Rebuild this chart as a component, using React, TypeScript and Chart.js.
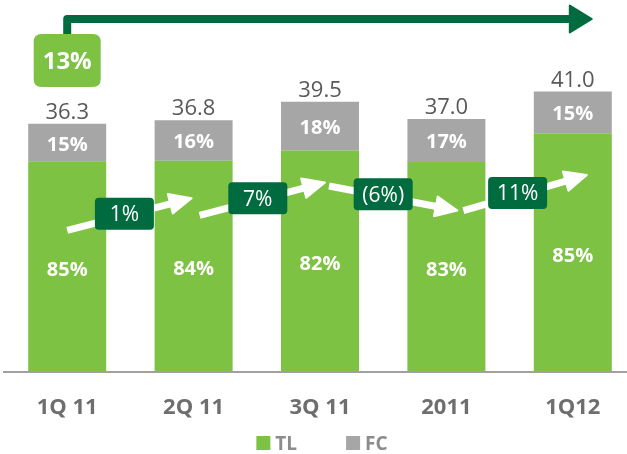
import React, { useEffect, useRef } from "react";
import { Chart, registerables } from "chart.js";

Chart.register(...registerables);

// ---- data ----
const categories = ["1Q 11", "2Q 11", "3Q 11", "2011", "1Q12"];
const tlValues = [30.8, 30.9, 32.4, 30.7, 34.9];
const fcValues = [5.5, 5.9, 7.1, 6.3, 6.1];
const totalLabels = ["36.3", "36.8", "39.5", "37.0", "41.0"];
const tlShareLabels = ["85%", "84%", "82%", "83%", "85%"];
const fcShareLabels = ["15%", "16%", "18%", "17%", "15%"];
const growthLabels = ["1%", "7%", "(6%)", "11%"];
const overallGrowthLabel = "13%";
const seriesNames = ["TL", "FC"];

// ---- styles ----
const FONT = "'Open Sans', 'DejaVu Sans', sans-serif";
const GREEN = "#7DC242";
const GRAY = "#A6A6A6";
const DARK_GREEN = "#006B3F";
const AXIS_GRAY = "#A0A0A0";
const VALUE_TEXT = "#595959";
const CAT_TEXT = "#6E6E6E";
const LEGEND_TEXT = "#8C8C8C";

// arrow layout (value units on the y scale, pixel offsets from bar centres)
const arrowStartVals = [20.7, 22.9, 27.2, 23.6];
const arrowEndVals = [25.4, 27.7, 23.6, 28.8];
const arrowStartDx = [0, 6, 9, 17];
const arrowEndDx = [-2, 5, 11, 14];
const boxDx = [-6, 1, 0, 8];

function roundRect(ctx: CanvasRenderingContext2D, x: number, y: number, w: number, h: number, r: number) {
  ctx.beginPath();
  ctx.moveTo(x + r, y);
  ctx.lineTo(x + w - r, y);
  ctx.quadraticCurveTo(x + w, y, x + w, y + r);
  ctx.lineTo(x + w, y + h - r);
  ctx.quadraticCurveTo(x + w, y + h, x + w - r, y + h);
  ctx.lineTo(x + r, y + h);
  ctx.quadraticCurveTo(x, y + h, x, y + h - r);
  ctx.lineTo(x, y + r);
  ctx.quadraticCurveTo(x, y, x + r, y);
  ctx.closePath();
}

function drawArrow(
  ctx: CanvasRenderingContext2D,
  x1: number, y1: number, x2: number, y2: number,
  color: string, lw: number, headLen: number, headW: number
) {
  const ang = Math.atan2(y2 - y1, x2 - x1);
  const c = Math.cos(ang), s = Math.sin(ang);
  const bx = x2 - headLen * c, by = y2 - headLen * s;
  ctx.save();
  ctx.strokeStyle = color;
  ctx.fillStyle = color;
  ctx.lineWidth = lw;
  ctx.lineCap = "butt";
  ctx.beginPath();
  ctx.moveTo(x1, y1);
  ctx.lineTo(bx + c * 2, by + s * 2);
  ctx.stroke();
  ctx.beginPath();
  ctx.moveTo(x2, y2);
  ctx.lineTo(bx + (headW / 2) * s, by - (headW / 2) * c);
  ctx.lineTo(bx - (headW / 2) * s, by + (headW / 2) * c);
  ctx.closePath();
  ctx.lineJoin = "round";
  ctx.lineWidth = 2;
  ctx.fill();
  ctx.stroke();
  ctx.restore();
}

const annotationPlugin = {
  id: "annotations",
  afterDatasetsDraw(chart: any) {
    const ctx: CanvasRenderingContext2D = chart.ctx;
    const yScale = chart.scales.y;
    const area = chart.chartArea;
    const m0 = chart.getDatasetMeta(0);
    const m1 = chart.getDatasetMeta(1);
    const centers = m0.data.map((el: any) => el.x);

    ctx.save();
    // segment share labels
    ctx.textAlign = "center";
    ctx.textBaseline = "alphabetic";
    ctx.fillStyle = "#FFFFFF";
    ctx.font = `bold 20px ${FONT}`;
    m0.data.forEach((el: any, i: number) => {
      const cy = (el.y + el.base) / 2;
      ctx.fillText(tlShareLabels[i], el.x, cy + 9);
    });
    m1.data.forEach((el: any, i: number) => {
      const cy = (el.y + el.base) / 2;
      ctx.fillText(fcShareLabels[i], el.x, cy + 8);
    });
    // totals
    ctx.fillStyle = VALUE_TEXT;
    ctx.font = `22px ${FONT}`;
    m1.data.forEach((el: any, i: number) => {
      ctx.fillText(totalLabels[i], el.x, el.y - 5);
    });

    // growth arrows
    for (let i = 0; i < growthLabels.length; i++) {
      const x1 = centers[i] + arrowStartDx[i];
      const x2 = centers[i + 1] + arrowEndDx[i];
      const y1 = yScale.getPixelForValue(arrowStartVals[i]);
      const y2 = yScale.getPixelForValue(arrowEndVals[i]);
      drawArrow(ctx, x1, y1, x2, y2, "#FFFFFF", 7, 22, 20);
      const bx = (centers[i] + centers[i + 1]) / 2 + boxDx[i];
      const t = (bx - x1) / (x2 - x1);
      const by = y1 + t * (y2 - y1) - 2;
      const bw = 59, bh = 32;
      ctx.fillStyle = DARK_GREEN;
      roundRect(ctx, bx - bw / 2, by - bh / 2, bw, bh, 4);
      ctx.fill();
      ctx.fillStyle = "#FFFFFF";
      ctx.font = `21px ${FONT}`;
      ctx.textAlign = "center";
      ctx.fillText(growthLabels[i], bx, by + 7.5);
    }

    // overall growth arrow on top
    const top = area.top;
    const x0 = centers[0];
    const lineY = top - 11;
    const tipX = centers[centers.length - 1] + 19;
    ctx.strokeStyle = DARK_GREEN;
    ctx.fillStyle = DARK_GREEN;
    ctx.lineWidth = 8;
    ctx.lineJoin = "round";
    ctx.beginPath();
    ctx.moveTo(x0, top + 20);
    ctx.lineTo(x0, lineY);
    ctx.lineTo(tipX - 20, lineY);
    ctx.stroke();
    ctx.beginPath();
    ctx.moveTo(tipX, lineY);
    ctx.lineTo(tipX - 22, lineY - 13.5);
    ctx.lineTo(tipX - 22, lineY + 13.5);
    ctx.closePath();
    ctx.lineWidth = 2;
    ctx.fill();
    ctx.stroke();

    const boxW = 67, boxH = 53;
    ctx.fillStyle = GREEN;
    roundRect(ctx, x0 - boxW / 2, top + 4, boxW, boxH, 8);
    ctx.fill();
    ctx.fillStyle = "#FFFFFF";
    ctx.font = `bold 24px ${FONT}`;
    ctx.textAlign = "center";
    ctx.fillText(overallGrowthLabel, x0, top + 4 + boxH / 2 + 8.5);
    ctx.restore();
  },
  afterDraw(chart: any) {
    // custom legend
    const ctx: CanvasRenderingContext2D = chart.ctx;
    const area = chart.chartArea;
    ctx.save();
    ctx.font = `bold 19px ${FONT}`;
    ctx.textBaseline = "alphabetic";
    ctx.textAlign = "left";
    const box = 14, gapText = 5, gapItem = 49;
    const items = chart.data.datasets.map((d: any) => ({
      text: d.label,
      color: d.backgroundColor,
      w: ctx.measureText(d.label).width,
    }));
    let total = 0;
    items.forEach((it: any, i: number) => {
      total += box + gapText + it.w + (i < items.length - 1 ? gapItem : 0);
    });
    let x = (area.left + area.right) / 2 + 2 - total / 2;
    const yTop = 436;
    items.forEach((it: any) => {
      ctx.fillStyle = it.color;
      ctx.fillRect(x, yTop, box, 14);
      ctx.fillStyle = LEGEND_TEXT;
      ctx.fillText(it.text, x + box + gapText, yTop + 13.5);
      x += box + gapText + it.w + gapItem;
    });
    ctx.restore();
  },
};

export default function App() {
  const canvasRef = useRef<HTMLCanvasElement | null>(null);

  useEffect(() => {
    if (!canvasRef.current) return;
    const chart = new Chart(canvasRef.current, {
      type: "bar",
      data: {
        labels: categories,
        datasets: [
          {
            label: seriesNames[0],
            data: tlValues,
            backgroundColor: GREEN,
            barPercentage: 0.617,
            categoryPercentage: 1.0,
          },
          {
            label: seriesNames[1],
            data: fcValues,
            backgroundColor: GRAY,
            barPercentage: 0.617,
            categoryPercentage: 1.0,
          },
        ],
      },
      options: {
        responsive: false,
        maintainAspectRatio: false,
        devicePixelRatio: 1,
        animation: false,
        layout: { padding: { left: 4, right: 4, top: 30, bottom: 0 } },
        plugins: {
          legend: { display: false },
          tooltip: { enabled: false },
        },
        scales: {
          x: {
            stacked: true,
            offset: true,
            grid: { display: false, drawTicks: false },
            border: { display: true, color: AXIS_GRAY, width: 2, z: 1 },
            ticks: {
              color: CAT_TEXT,
              font: { family: FONT, size: 22, weight: "bold" },
              padding: 23,
            },
            afterFit: (s: any) => {
              s.height = 82;
            },
          },
          y: {
            stacked: true,
            display: false,
            min: 0,
            max: 50,
          },
        },
      },
      plugins: [annotationPlugin],
    });
    let alive = true;
    if ((document as any).fonts && (document as any).fonts.ready) {
      (document as any).fonts.ready.then(() => {
        if (alive) chart.update("none");
      });
    }
    return () => {
      alive = false;
      chart.destroy();
    };
  }, []);

  return (
    <div
      style={{
        position: "absolute",
        left: 0,
        top: 0,
        width: 627,
        height: 454,
        overflow: "hidden",
        background: "#FFFFFF",
      }}
    >
      <canvas
        ref={canvasRef}
        width={640}
        height={454}
        style={{ display: "block", width: 640, height: 454 }}
      />
    </div>
  );
}
